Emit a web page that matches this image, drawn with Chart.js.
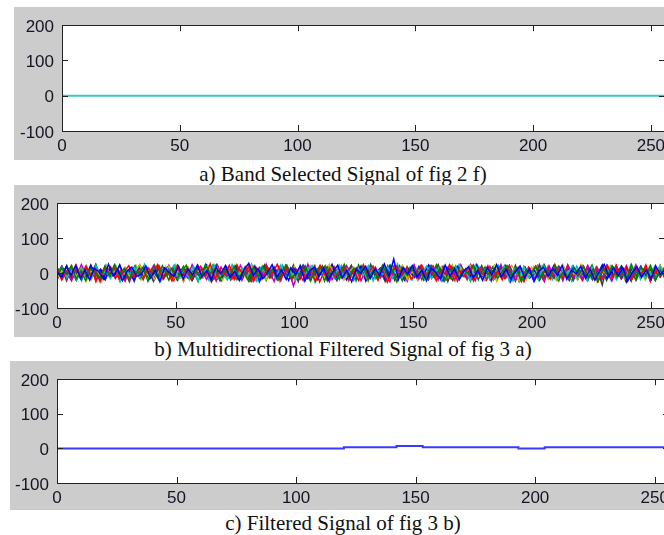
<!DOCTYPE html>
<html>
<head>
<meta charset="utf-8">
<script src="https://cdn.jsdelivr.net/npm/chart.js@4/dist/chart.umd.min.js"></script>
<style>
    html, body { margin: 0; padding: 0; background: #fff; width: 664px; height: 535px; overflow: hidden; position: relative; }
    .panel { position: absolute; background: #cccccc; }
    .caption { position: absolute; left: 0; width: 686px; text-align: center; font-family: 'Liberation Serif', 'Times New Roman', serif; font-size: 21px; color: #111; line-height: 24px; white-space: nowrap; }
</style>
</head>
<body>
<div class="panel" style="left:14px; top:7px; width:670px; height:153px;"><canvas id="chartA" width="670" height="153"></canvas></div>
<div class="caption" style="top:162px;">a) Band Selected Signal of fig 2 f)</div>
<div class="panel" style="left:14px; top:185px; width:670px; height:152px;"><canvas id="chartB" width="670" height="152"></canvas></div>
<div class="caption" style="top:337px;">b) Multidirectional Filtered Signal of fig 3 a)</div>
<div class="panel" style="left:10px; top:361px; width:670px; height:149px;"><canvas id="chartC" width="670" height="149"></canvas></div>
<div class="caption" style="top:511px;">c) Filtered Signal of fig 3 b)</div>

<script>
// axis ranges and ticks (same for all three panels)
const xRange = [0, 256];
const yRange = [-100, 200];
const xStep = 50;
const yStep = 100;

// a) band selected signal: flat at zero
const bandX = [0, 256];
const bandY = [0, 0];

// b) multidirectional filtered signal, one row per direction (colours cycle like MATLAB)
const dir1 = [4,-12,18,-6,22,-15,9,-20,14,3,-18,25,-8,11,-22,6,17,-10,-3,20,-14,8,-24,15,2,-9,19,-17,12,-5,23,-11,7,-19,16,-2,21,-13,5,-21,10,28,-7,13,-16,1,24,-12,9,-18,15,-4,20,-23,6,17,-9,14,-20,3,22,-14,8,-25,11,-1,19,-15,12,-7,26,-10,40,-18,16,-3,21,-12,9,-22,14,2,-17,23,-8,11,-19,6,18,-13,7,-21,15,-5,24,-11,10,-16,3,20,-14,12,-24,5,17,-9,13,-6,22,-18,8,-2,19,-15,11,-20,4,25,-10,16,-7,14,-23,1,18,-12,9,-17,21,-4,10];
const dir2 = [-8,15,-3,20,-17,6,-22,11,2,-14,19,-9,24,-5,13,-20,8,-1,17,-24,10,-12,21,-6,14,-18,3,22,-11,7,-16,25,-2,12,-21,9,-7,18,-13,4,-23,16,-10,20,-4,11,-19,6,23,-15,2,-8,17,-22,13,-3,21,-12,5,-18,24,-9,14,-1,19,-20,8,-14,22,-6,10,-25,15,-4,18,-11,3,-17,20,-7,12,-22,6,16,-13,9,-2,23,-19,11,-5,17,-15,4,21,-10,14,-24,7,-3,19,-16,12,-8,22,-12,5,-20,15,-1,18,-14,9,-23,13,-6,20,-11,3,-18,24,-9,16,-4,11,-21,7,-13];
const dir3 = [12,-20,6,-9,23,-14,17,-3,10,-25,19,-7,14,-16,4,21,-11,8,-19,15,-2,24,-13,6,-22,18,-8,11,-17,3,20,-10,26,-15,9,-4,22,-18,13,-6,19,-23,7,-12,16,-1,25,-9,12,-20,5,18,-14,10,-24,21,-5,14,-11,2,23,-17,8,-21,16,-3,19,-13,11,-26,6,20,-8,15,-18,4,22,-12,9,-16,13,-2,24,-20,7,-10,17,-22,12,-4,21,-15,5,-19,18,-7,14,-23,10,-1,20,-13,8,-17,24,-9,3,-21,16,-6,19,-12,11,-25,7,22,-14,13,-3,18,-19,9,-8,23,-16,5,-11,15];
const dir4 = [-5,17,-13,8,-21,14,2,-18,22,-9,6,-15,19,-24,11,-3,16,-12,25,-7,9,-20,13,-1,21,-16,5,-10,18,-23,12,-6,20,-14,3,-19,24,-8,15,-11,7,-22,17,-4,10,-17,22,-13,1,-20,14,-6,19,-25,9,-2,16,-15,23,-10,5,-18,12,-7,21,-22,8,-3,17,-14,26,-11,6,-19,13,-1,20,-16,10,-23,15,-5,18,-12,4,-21,22,-8,11,-17,7,-2,19,-24,14,-9,16,-13,3,-20,23,-6,12,-18,9,-4,21,-15,5,-22,17,-10,13,-1,20,-19,8,-12,24,-7,15,-16,2,-21,18,-5];
const dir5 = [9,-16,3,-22,14,-7,20,-12,5,-19,16,-2,23,-14,10,-25,7,-9,18,-4,21,-17,12,-1,15,-21,8,-13,24,-6,11,-18,4,-23,17,-8,13,-15,22,-3,9,-20,16,-11,6,-24,19,-5,14,-37,2,-21,25,-9,12,-6,18,-19,7,-13,21,-2,15,-22,10,-8,17,-14,4,-25,20,-10,13,-4,23,-17,6,-12,19,-20,11,-3,16,-23,8,-15,22,-7,14,-18,1,-11,24,-13,9,-21,17,-5,12,-16,3,-24,20,-9,15,-2,18,-14,7,-19,22,-6,10,-12,5,-22,16,-8,21,-15,11,-3,19,-20,6,-10,13];
const dir6 = [-14,7,-2,19,-10,15,-23,4,12,-17,21,-6,9,-20,16,-12,3,24,-8,13,-18,6,-3,20,-15,11,-24,17,-5,8,-13,22,-9,14,-21,2,18,-11,6,-16,23,-4,10,-19,15,-7,21,-14,5,-22,12,-1,19,-17,9,-10,25,-6,14,-20,3,17,-13,8,-24,20,-2,11,-15,16,-8,22,-18,4,-11,13,-21,9,-5,18,-16,7,-23,15,-3,21,-12,10,-19,6,24,-9,12,-14,2,-22,17,-7,19,-4,11,-18,8,-13,23,-10,5,-20,14,-1,16,-24,9,-6,20,-12,3,-17,22,-8,13,-15,7,-21,18,-2];
const dir7 = [6,-10,21,-18,3,-13,16,-7,24,-20,9,-4,14,-22,11,-15,2,19,-9,7,-23,17,-12,5,-16,22,-3,10,-20,13,-6,18,-25,8,-11,20,-2,15,-17,4,-21,12,-8,23,-14,6,-19,16,-1,11,-24,21,-7,9,-15,18,-10,3,-22,14,-5,20,-18,7,-12,25,-9,13,-3,17,-21,10,-16,2,22,-13,8,-19,15,-6,19,-24,11,-1,14,-17,6,-10,21,-20,9,-4,18,-14,12,-23,16,-8,3,-18,24,-11,7,-15,20,-2,13,-21,10,-5,17,-19,8,-34,22,-7,4,-16,15,-23,11,-3,19,-13,6,-9,14];
const dir8 = [-11,19,-4,13,-21,8,-15,22,-2,10,-18,15,-7,24,-13,3,-20,17,-9,12,-23,6,-1,18,-14,21,-8,11,-19,5,-12,23,-4,16,-22,9,-6,19,-16,2,-11,20,-24,13,-3,17,-10,8,-21,14,-5,22,-15,7,-18,11,-2,25,-12,4,-19,16,-8,20,-23,10,-1,14,-17,21,-6,9,-20,12,-13,18,-4,23,-11,6,-22,15,-9,19,-3,8,-16,24,-12,5,-19,13,-7,21,-24,11,-2,17,-14,9,-20,15,-5,22,-10,3,-17,19,-13,8,-21,12,-6,23,-15,4,-11,18,-25,14,-3,20,-9,7,-18,16,-1];
const dir9 = [16,-4,21,-13,7,-19,12,-1,24,-16,5,-9,18,-22,11,-6,20,-14,3,-17,23,-10,8,-20,15,-3,19,-12,6,-24,13,-8,22,-16,1,-11,17,-19,10,-5,25,-13,7,-21,14,-2,19,-9,4,-18,22,-15,9,-6,20,-23,12,-1,16,-12,7,-20,23,-8,13,-17,2,-10,21,-14,6,-22,18,-4,11,-19,15,-9,24,-13,3,-16,20,-7,12,-23,9,-2,17,-18,14,-5,21,-11,6,-24,19,-8,10,-15,22,-3,13,-20,5,-12,18,-17,8,-1,23,-14,11,-21,16,-6,20,-10,2,-19,14,-7,22,-13,9,-4];
const dir10 = [-19,8,-3,22,-12,15,-7,19,-24,10,-1,17,-15,6,-21,13,-9,23,-5,11,-18,20,-11,3,-22,16,-6,14,-13,21,-2,9,-20,18,-10,5,-16,24,-7,12,-23,15,-4,19,-14,8,-19,22,-1,10,-17,13,-8,21,-25,6,-12,18,-3,15,-20,9,-6,23,-15,4,-21,17,-10,12,-2,20,-18,7,-13,22,-5,14,-22,10,-9,19,-16,3,-11,24,-7,13,-20,8,-3,18,-14,21,-12,5,-23,16,-6,11,-19,20,-1,9,-15,23,-10,6,-21,14,-4,17,-17,12,-8,22,-13,2,-20,19,-5,10,-24,15,-9,18];
const dir11 = [3,-15,20,-8,12,-22,17,-4,9,-18,23,-11,6,-20,14,-2,21,-16,10,-7,18,-24,13,-5,22,-12,8,-19,16,-3,11,-21,24,-9,5,-14,19,-17,7,-1,20,-23,15,-6,12,-19,23,-10,4,-15,18,-8,21,-20,9,-3,16,-13,22,-5,11,-24,14,-9,19,-16,6,-2,23,-12,10,-21,17,-7,13,-18,20,-4,8,-22,15,-11,24,-6,12,-17,18,-1,9,-20,21,-13,5,-23,16,-8,14,-15,22,-3,10,-19,17,-10,6,-24,20,-5,13,-16,19,-2,11,-21,23,-9,7,-14,18,-18,12,-4,21,-12,8];
const dir12 = [-2,20,-17,9,-12,24,-6,14,-21,11,-3,18,-15,5,-23,16,-9,21,-1,12,-19,8,-14,22,-7,17,-24,10,-4,19,-13,6,-18,23,-10,15,-2,20,-21,7,-11,13,-16,25,-5,9,-22,18,-8,14,-1,21,-19,11,-6,16,-24,12,-3,20,-14,7,-20,23,-9,15,-12,4,-17,22,-4,10,-23,18,-7,13,-15,21,-2,8,-19,17,-11,24,-6,12,-21,15,-3,19,-16,6,-10,22,-13,9,-24,16,-5,20,-18,11,-1,14,-22,23,-8,7,-15,18,-12,10,-20,21,-4,13,-17,5,-9,24,-14,16,-23,8,-6,19];
const dir13 = [13,-9,5,-20,17,-3,22,-14,8,-24,11,-6,19,-16,2,-11,21,-19,14,-4,9,-22,18,-8,24,-13,6,-17,12,-1,20,-21,15,-7,10,-15,23,-3,7,-20,16,-12,21,-5,13,-24,8,-9,19,-18,4,-14,22,-2,11,-21,17,-7,14,-23,6,-10,20,-15,9,-4,24,-19,12,-1,18,-13,5,-22,15,-8,21,-11,3,-17,23,-6,10,-20,13,-2,19,-16,7,-24,14,-9,22,-4,11,-18,16,-12,20,-1,8,-21,17,-7,12,-15,24,-10,5,-19,15,-3,21,-14,9,-23,18,-5,10,-20,13,-11,22,-1];
const dir14 = [-7,14,-22,19,-4,10,-16,23,-11,5,-19,13,-2,21,-14,8,-24,17,-9,11,-5,20,-18,3,-13,22,-8,16,-21,6,-10,19,-3,24,-15,9,-20,12,-6,18,-23,4,-12,21,-1,15,-17,10,-7,23,-19,7,-14,17,-4,20,-22,11,-9,14,-2,22,-16,5,-18,19,-11,8,-24,13,-6,21,-15,3,-10,18,-20,12,-3,24,-13,6,-21,16,-8,10,-17,20,-1,14,-23,9,-5,19,-12,22,-19,4,-9,15,-14,23,-6,11,-22,17,-3,8,-16,21,-10,13,-24,5,-7,18,-15,20,-2,12,-21,9,-11,16,-4,22,-18];
const directions = [dir1, dir2, dir3, dir4, dir5, dir6, dir7, dir8, dir9, dir10, dir11, dir12, dir13, dir14];
const directionColors = ['#0000ff', '#008000', '#ff0000', '#00bfbf', '#bf00bf', '#bfbf00', '#404040'];

// c) filtered signal: piecewise levels (value holds until next breakpoint)
const filtX = [0, 120, 142, 153, 193, 204, 256];
const filtY = [0, 3.5, 7, 3.5, 0, 3.5, 3.5];

function toPoints(xs, ys) {
    return ys.map((v, i) => ({ x: xs[i], y: v }));
}

function spreadPoints(ys) {
    const step = (xRange[1] - xRange[0]) / (ys.length - 1);
    return ys.map((v, i) => ({ x: xRange[0] + i * step, y: v }));
}

// white axes box with MATLAB style inward ticks
const matlabAxes = {
    id: 'matlabAxes',
    beforeDraw(chart) {
        const { ctx, chartArea: a } = chart;
        ctx.save();
        ctx.fillStyle = '#ffffff';
        ctx.fillRect(a.left, a.top, a.right - a.left, a.bottom - a.top);
        ctx.restore();
    },
    afterDatasetsDraw(chart) {
        const { ctx, chartArea: a, scales: { x, y } } = chart;
        const len = 6;
        ctx.save();
        ctx.strokeStyle = '#222';
        ctx.lineWidth = 1;
        ctx.beginPath();
        x.ticks.forEach(t => {
            const px = Math.round(x.getPixelForValue(t.value)) + 0.5;
            ctx.moveTo(px, a.bottom); ctx.lineTo(px, a.bottom - len);
            ctx.moveTo(px, a.top); ctx.lineTo(px, a.top + len);
        });
        y.ticks.forEach(t => {
            const py = Math.round(y.getPixelForValue(t.value)) + 0.5;
            ctx.moveTo(a.left, py); ctx.lineTo(a.left + len, py);
            ctx.moveTo(a.right, py); ctx.lineTo(a.right - len, py);
        });
        ctx.stroke();
        ctx.strokeRect(Math.round(a.left) + 0.5, Math.round(a.top) + 0.5,
            Math.round(a.right - a.left), Math.round(a.bottom - a.top));
        ctx.restore();
    }
};

function makeChart(id, datasets, box) {
    const tickFont = { family: "'Liberation Sans', Arial, sans-serif", size: 17 };
    return new Chart(document.getElementById(id), {
        type: 'line',
        data: { datasets: datasets },
        options: {
            responsive: false,
            animation: false,
            events: [],
            layout: { padding: { top: box.top, right: box.right, left: 0, bottom: 0 } },
            plugins: { legend: { display: false }, tooltip: { enabled: false } },
            elements: { point: { radius: 0 } },
            scales: {
                x: {
                    type: 'linear',
                    min: xRange[0], max: xRange[1],
                    grid: { display: false, drawTicks: false },
                    border: { display: false },
                    ticks: { stepSize: xStep, includeBounds: false, maxRotation: 0, autoSkip: false, color: '#141424', font: tickFont, padding: 5 },
                    afterFit: s => { s.height = box.xh; }
                },
                y: {
                    min: yRange[0], max: yRange[1],
                    grid: { display: false, drawTicks: false },
                    border: { display: false },
                    ticks: { stepSize: yStep, includeBounds: false, color: '#141424', font: tickFont, padding: 8, labelOffset: 2 },
                    afterFit: s => { s.width = box.left; }
                }
            }
        },
        plugins: [matlabAxes]
    });
}

makeChart('chartA', [{
    data: toPoints(bandX, bandY),
    borderColor: '#3cc6c6',
    borderWidth: 2
}], { left: 48, top: 11, right: 19, xh: 29 });

makeChart('chartB', directions.map((d, i) => ({
    data: spreadPoints(d),
    borderColor: directionColors[i % directionColors.length],
    borderWidth: 1.5
})), { left: 43, top: 10, right: 19, xh: 29 });

makeChart('chartC', [{
    data: toPoints(filtX, filtY),
    borderColor: '#3a3aff',
    borderWidth: 2,
    stepped: 'before'
}], { left: 47, top: 9, right: 11, xh: 27 });
</script>
</body>
</html>
